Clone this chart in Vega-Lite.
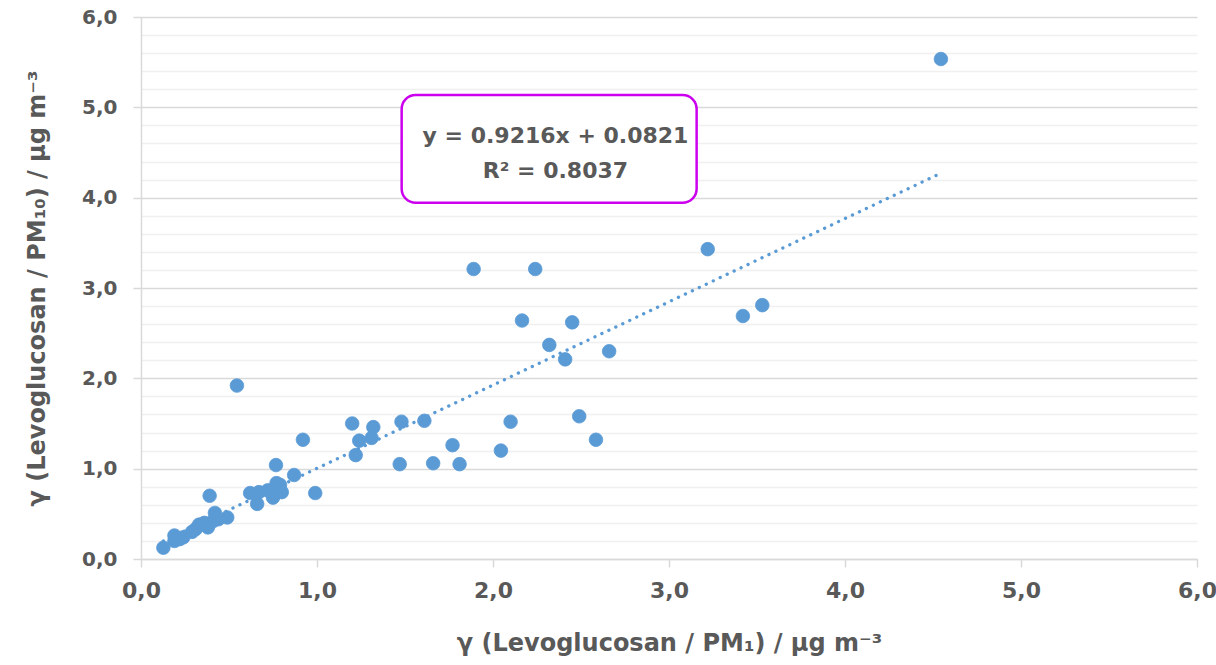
{
  "$schema": "https://vega.github.io/schema/vega-lite/v6.json",
  "width": 1056,
  "height": 542,
  "autosize": "none",
  "padding": {"left": 141, "top": 17, "right": 19, "bottom": 106},
  "background": "white",
  "config": {"view": {"stroke": null}, "font": "DejaVu Sans"},
  "datasets": {
    "points": [
      {"pm1": 0.127, "pm10": 0.125},
      {"pm1": 0.19, "pm10": 0.26},
      {"pm1": 0.19, "pm10": 0.2},
      {"pm1": 0.22, "pm10": 0.22},
      {"pm1": 0.24, "pm10": 0.24},
      {"pm1": 0.29, "pm10": 0.3},
      {"pm1": 0.31, "pm10": 0.33},
      {"pm1": 0.33, "pm10": 0.38},
      {"pm1": 0.36, "pm10": 0.4},
      {"pm1": 0.38, "pm10": 0.35},
      {"pm1": 0.41, "pm10": 0.42},
      {"pm1": 0.42, "pm10": 0.51},
      {"pm1": 0.44, "pm10": 0.44},
      {"pm1": 0.49, "pm10": 0.46},
      {"pm1": 0.39, "pm10": 0.7},
      {"pm1": 0.545, "pm10": 1.92},
      {"pm1": 0.62, "pm10": 0.73},
      {"pm1": 0.66, "pm10": 0.61},
      {"pm1": 0.67, "pm10": 0.74},
      {"pm1": 0.72, "pm10": 0.76},
      {"pm1": 0.75, "pm10": 0.68},
      {"pm1": 0.76, "pm10": 0.73},
      {"pm1": 0.77, "pm10": 0.84},
      {"pm1": 0.79, "pm10": 0.82},
      {"pm1": 0.8, "pm10": 0.74},
      {"pm1": 0.767, "pm10": 1.04},
      {"pm1": 0.87, "pm10": 0.93},
      {"pm1": 0.92, "pm10": 1.32},
      {"pm1": 0.99, "pm10": 0.73},
      {"pm1": 1.2, "pm10": 1.5},
      {"pm1": 1.22, "pm10": 1.15},
      {"pm1": 1.24, "pm10": 1.31},
      {"pm1": 1.31, "pm10": 1.34},
      {"pm1": 1.32, "pm10": 1.46},
      {"pm1": 1.47, "pm10": 1.05},
      {"pm1": 1.48, "pm10": 1.52},
      {"pm1": 1.61, "pm10": 1.53},
      {"pm1": 1.66, "pm10": 1.06},
      {"pm1": 1.77, "pm10": 1.26},
      {"pm1": 1.81, "pm10": 1.05},
      {"pm1": 1.89, "pm10": 3.21},
      {"pm1": 2.045, "pm10": 1.2},
      {"pm1": 2.1, "pm10": 1.52},
      {"pm1": 2.165, "pm10": 2.64},
      {"pm1": 2.24, "pm10": 3.21},
      {"pm1": 2.32, "pm10": 2.37},
      {"pm1": 2.41, "pm10": 2.21},
      {"pm1": 2.45, "pm10": 2.62},
      {"pm1": 2.49, "pm10": 1.58},
      {"pm1": 2.585, "pm10": 1.32},
      {"pm1": 2.66, "pm10": 2.3},
      {"pm1": 3.22, "pm10": 3.43},
      {"pm1": 3.42, "pm10": 2.69},
      {"pm1": 3.53, "pm10": 2.81},
      {"pm1": 4.545, "pm10": 5.535}
    ],
    "trend": [
      {"pm1": 0.127, "pm10": 0.199},
      {"pm1": 4.545, "pm10": 4.271}
    ],
    "box": [
      {"x1": 1.481, "x2": 3.157, "y1": 5.137, "y2": 3.944}
    ],
    "labels": [
      {"x": 2.355, "y": 4.68, "t": "y = 0.9216x + 0.0821"},
      {"x": 2.355, "y": 4.29, "t": "R² = 0.8037"}
    ]
  },
  "layer": [
    {
      "data": {"name": "points"},
      "mark": {"type": "point", "filled": true, "opacity": 1, "size": 185, "color": "#5B9BD5", "stroke": "#5B9BD5", "strokeWidth": 0.8},
      "encoding": {
        "x": {
          "field": "pm1", "type": "quantitative",
          "scale": {"domain": [0, 6], "nice": false, "zero": false},
          "axis": {
            "values": [0, 1, 2, 3, 4, 5, 6],
            "tickCount": 20,
            "grid": false,
            "labelFlush": false,
            "labelOverlap": false,
            "labelExpr": "replace(format(datum.value,'.1f'),'.',',')",
            "labelFont": "DejaVu Sans", "labelFontWeight": "bold", "labelFontSize": 22, "labelColor": "#595959",
            "labelPadding": 13,
            "tickColor": "#D9D9D9", "tickSize": 8, "tickWidth": 1.5,
            "domainColor": "#D9D9D9", "domainWidth": 1.5,
            "title": "γ (Levoglucosan / PM₁) / µg m⁻³",
            "titleFont": "DejaVu Sans", "titleFontWeight": "bold", "titleFontSize": 24, "titleColor": "#595959",
            "titlePadding": 30
          }
        },
        "y": {
          "field": "pm10", "type": "quantitative",
          "scale": {"domain": [0, 6], "nice": false, "zero": false},
          "axis": {
            "values": [0, 0.2, 0.4, 0.6, 0.8, 1, 1.2, 1.4, 1.6, 1.8, 2, 2.2, 2.4, 2.6, 2.8, 3, 3.2, 3.4, 3.6, 3.8, 4, 4.2, 4.4, 4.6, 4.8, 5, 5.2, 5.4, 5.6, 5.8, 6],
            "tickCount": 100,
            "grid": true,
            "labelFlush": false,
            "labelOverlap": false,
            "gridColor": {"condition": {"test": "abs(datum.value - round(datum.value)) < 0.01", "value": "#D9D9D9"}, "value": "#F0F0F0"},
            "gridWidth": 1.5,
            "tickColor": {"condition": {"test": "abs(datum.value - round(datum.value)) < 0.01", "value": "#D9D9D9"}, "value": "transparent"},
            "tickSize": 8, "tickWidth": 1.5,
            "labelExpr": "abs(datum.value - round(datum.value)) < 0.01 ? replace(format(datum.value,'.1f'),'.',',') : ''",
            "labelFont": "DejaVu Sans", "labelFontWeight": "bold", "labelFontSize": 20, "labelColor": "#595959",
            "labelPadding": 16,
            "domainColor": "#D9D9D9", "domainWidth": 1.5,
            "title": "γ (Levoglucosan / PM₁₀) / µg m⁻³",
            "titleFont": "DejaVu Sans", "titleFontWeight": "bold", "titleFontSize": 24, "titleColor": "#595959",
            "titlePadding": 32
          }
        }
      }
    },
    {
      "data": {"name": "trend"},
      "mark": {"type": "line", "color": "#5B9BD5", "strokeWidth": 3.3, "strokeDash": [0.1, 7.6], "strokeCap": "round"},
      "encoding": {
        "x": {"field": "pm1", "type": "quantitative"},
        "y": {"field": "pm10", "type": "quantitative"}
      }
    },
    {
      "data": {"name": "box"},
      "mark": {"type": "rect", "fill": "white", "stroke": "#CC00EE", "strokeWidth": 2.5, "cornerRadius": 14},
      "encoding": {
        "x": {"field": "x1", "type": "quantitative"},
        "x2": {"field": "x2"},
        "y": {"field": "y1", "type": "quantitative"},
        "y2": {"field": "y2"}
      }
    },
    {
      "data": {"name": "labels"},
      "mark": {"type": "text", "font": "DejaVu Sans", "fontWeight": "bold", "fontSize": 22, "color": "#595959", "align": "center", "baseline": "middle"},
      "encoding": {
        "x": {"field": "x", "type": "quantitative"},
        "y": {"field": "y", "type": "quantitative"},
        "text": {"field": "t"}
      }
    }
  ]
}
